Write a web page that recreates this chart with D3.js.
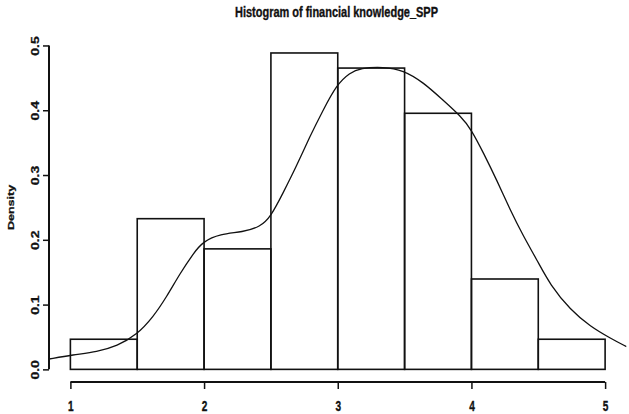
<!DOCTYPE html>
<html>
<head>
<meta charset="utf-8">
<script src="https://cdn.jsdelivr.net/npm/d3@7"></script>
<style>
  body { margin: 0; background: #fff; }
  text { font-family: "Liberation Sans", Arial, sans-serif; font-weight: bold; fill: #111; stroke: #111; stroke-width: 0.35; }
</style>
</head>
<body>
<svg width="629" height="414"></svg>
<script>
// histogram breaks and densities
const breaks = [1, 1.5, 2, 2.5, 3, 3.5, 4, 4.5, 5];
const density = [0.0465, 0.2326, 0.186, 0.4884, 0.4651, 0.3953, 0.1395, 0.0465];

// kernel density line
const curveX = [0.84, 1.02, 1.2, 1.35, 1.495, 1.62, 1.72, 1.82, 1.92, 1.99, 2.12, 2.29, 2.42, 2.5, 2.59, 2.69, 2.79, 2.89, 2.99, 3.09, 3.17, 3.34, 3.49, 3.64, 3.78, 3.92, 4.0, 4.09, 4.19, 4.29, 4.39, 4.49, 4.59, 4.74, 4.89, 5.04, 5.16];
const curveY = [0.016, 0.0225, 0.027, 0.036, 0.053, 0.081, 0.112, 0.148, 0.179, 0.197, 0.209, 0.212, 0.22, 0.236, 0.272, 0.313, 0.359, 0.40, 0.439, 0.458, 0.465, 0.467, 0.462, 0.443, 0.417, 0.391, 0.370, 0.334, 0.292, 0.246, 0.205, 0.169, 0.130, 0.092, 0.066, 0.048, 0.035];

const xTicks = [1, 2, 3, 4, 5];
const yTicks = [0, 0.1, 0.2, 0.3, 0.4, 0.5];

const svg = d3.select('svg');
const squeeze = 0.72;

const x = d3.scaleLinear().domain([0.84, 5.16]).range([49, 626.5]);
const y = d3.scaleLinear().domain([-0.0195, 0.5075]).range([382, 40.6]);

svg.append('defs').append('clipPath')
  .attr('id', 'plot')
  .append('rect')
  .attr('x', x(0.84)).attr('y', y(0.5075))
  .attr('width', x(5.16) - x(0.84))
  .attr('height', y(-0.0195) - y(0.5075));

// bars
svg.append('g')
  .selectAll('rect')
  .data(density)
  .enter()
  .append('rect')
  .attr('x', (d, i) => x(breaks[i]))
  .attr('y', d => y(d))
  .attr('width', (d, i) => x(breaks[i + 1]) - x(breaks[i]))
  .attr('height', d => y(0) - y(d))
  .attr('fill', 'none')
  .attr('stroke', '#111')
  .attr('stroke-width', 1.6);

// density curve
const pts = curveX.map((v, i) => [v, curveY[i]]);
svg.append('path')
  .datum(pts)
  .attr('clip-path', 'url(#plot)')
  .attr('fill', 'none')
  .attr('stroke', '#111')
  .attr('stroke-width', 1.3)
  .attr('d', d3.line().x(d => x(d[0])).y(d => y(d[1])).curve(d3.curveBasis));

// x axis
const xAxis = svg.append('g').attr('transform', `translate(0,${y(-0.0195)})`)
  .call(d3.axisBottom(x).tickValues(xTicks).tickSize(7).tickSizeOuter(0).tickFormat(d3.format('d')));
xAxis.select('.domain').attr('d', `M${x(1)},0H${x(5)}`).attr('stroke', '#111').attr('stroke-width', 2);
xAxis.selectAll('.tick line').attr('stroke', '#111').attr('stroke-width', 1.5);
xAxis.selectAll('.tick text')
  .attr('y', 0).attr('dy', null)
  .attr('transform', `translate(0,29) scale(${squeeze},1)`)
  .style('font-size', '14px').style('font-family', '"Liberation Sans", Arial, sans-serif')
  .style('font-weight', 'bold').attr('fill', '#111');

// y axis
const yAxis = svg.append('g').attr('transform', `translate(${x(0.84)},0)`)
  .call(d3.axisLeft(y).tickValues(yTicks).tickSize(6).tickSizeOuter(0).tickFormat(d3.format('.1f')));
yAxis.select('.domain').attr('d', `M0,${y(0)}V${y(0.5)}`).attr('stroke', '#111').attr('stroke-width', 2);
yAxis.selectAll('.tick line').attr('stroke', '#111').attr('stroke-width', 1.5);
yAxis.selectAll('.tick text')
  .attr('x', 0).attr('dy', null).attr('text-anchor', 'middle')
  .attr('transform', `translate(-10,0) scale(${squeeze},1) rotate(-90)`)
  .style('font-size', '14px').style('font-family', '"Liberation Sans", Arial, sans-serif')
  .style('font-weight', 'bold').attr('fill', '#111');

// labels
svg.append('text')
  .attr('transform', `translate(14,${(y(0) + y(0.5)) / 2}) scale(${squeeze},1) rotate(-90)`)
  .attr('text-anchor', 'middle')
  .style('font-size', '12.5px')
  .text('Density');

svg.append('text')
  .attr('x', 336.5).attr('y', 17)
  .attr('text-anchor', 'middle')
  .attr('textLength', 203).attr('lengthAdjust', 'spacingAndGlyphs')
  .style('font-size', '14px')
  .text('Histogram of financial knowledge_SPP');
</script>
</body>
</html>
